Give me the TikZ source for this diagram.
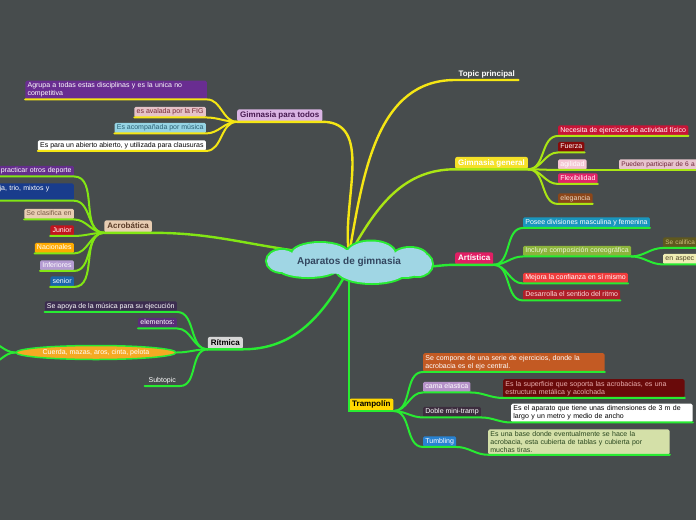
\documentclass[tikz,border=0pt]{standalone}
\usepackage{fontspec}
\setmainfont{Liberation Sans}
\usetikzlibrary{shapes.geometric}
\pgfdeclarelayer{top}
\pgfsetlayers{main,top}
\definecolor{bg}{RGB}{71,76,77}
\definecolor{cGpt}{RGB}{218,180,228}\definecolor{tGpt}{RGB}{70,25,80}
\definecolor{cPurp}{RGB}{105,45,145}
\definecolor{cAval}{RGB}{230,195,200}\definecolor{tAval}{RGB}{120,40,50}
\definecolor{cAcom}{RGB}{150,212,228}\definecolor{tAcom}{RGB}{40,95,115}
\definecolor{cGG}{RGB}{245,225,40}
\definecolor{cNec}{RGB}{200,20,55}
\definecolor{cFue}{RGB}{135,10,10}
\definecolor{cAgi}{RGB}{245,198,212}
\definecolor{cPP}{RGB}{232,196,206}\definecolor{tPP}{RGB}{110,35,55}
\definecolor{cFlx}{RGB}{226,35,105}
\definecolor{cEle}{RGB}{140,70,25}\definecolor{tEle}{RGB}{235,215,195}
\definecolor{cArt}{RGB}{225,30,100}
\definecolor{cPos}{RGB}{25,150,190}
\definecolor{cInc}{RGB}{140,180,60}\definecolor{tInc}{RGB}{235,245,215}
\definecolor{cSec}{RGB}{95,88,30}\definecolor{tSec}{RGB}{200,190,120}
\definecolor{cAsp}{RGB}{240,238,180}\definecolor{tAsp}{RGB}{80,70,40}
\definecolor{cMej}{RGB}{240,60,60}
\definecolor{cDes}{RGB}{175,30,40}\definecolor{tDes}{RGB}{250,220,220}
\definecolor{cTr}{RGB}{255,215,0}
\definecolor{cCom}{RGB}{195,90,35}
\definecolor{cCam}{RGB}{180,145,200}
\definecolor{cSup}{RGB}{105,10,10}\definecolor{tSup}{RGB}{235,175,175}
\definecolor{cDob}{RGB}{60,45,62}
\definecolor{cTum}{RGB}{40,130,210}
\definecolor{cBas}{RGB}{212,224,168}\definecolor{tBas}{RGB}{40,70,30}
\definecolor{cAcr}{RGB}{232,205,178}\definecolor{tAcr}{RGB}{90,60,40}
\definecolor{cPurpB}{RGB}{100,45,140}
\definecolor{cTri}{RGB}{25,60,140}
\definecolor{tCla}{RGB}{120,90,70}
\definecolor{cJun}{RGB}{195,20,30}
\definecolor{cNac}{RGB}{255,170,0}
\definecolor{cInf}{RGB}{180,155,210}
\definecolor{cSen}{RGB}{25,100,170}
\definecolor{cRit}{RGB}{215,215,215}
\definecolor{cApo}{RGB}{60,45,80}
\definecolor{cElm}{RGB}{90,45,120}
\definecolor{cCue}{RGB}{245,170,35}
\definecolor{lY}{RGB}{245,230,20}
\definecolor{lGG}{RGB}{170,230,20}
\definecolor{lA}{RGB}{130,230,20}
\definecolor{lG}{RGB}{40,235,50}
\definecolor{cCloud}{RGB}{160,214,228}
\definecolor{tCloud}{RGB}{50,70,95}
\begin{document}
\begin{tikzpicture}[x=1pt,y=-1pt,
 bx/.style={rounded corners=1.5pt, inner xsep=2.2pt, inner ysep=1.8pt, text height=5.3pt, text depth=1.6pt, font=\fontsize{7}{8}\selectfont, text=white},
 bxm/.style={rounded corners=1.5pt, inner xsep=2.2pt, inner ysep=2pt, font=\fontsize{7}{8}\selectfont, text=white, align=left, text width=#1},
 mt/.style={rounded corners=2pt, inner xsep=3pt, inner ysep=2.2pt, text height=6pt, text depth=1.8pt, font=\bfseries\fontsize{8}{9}\selectfont},
 cn/.style={line width=2pt, line cap=round},
 mn/.style={line width=2.4pt, line cap=round},
]
\fill[bg] (0,0) rectangle (696,520);
\useasboundingbox (0,0) rectangle (696,520);

% central topic: cloud outline drawn as overlapping puffs
\begin{pgfonlayer}{top}
\def\puffs{282/261/15/11, 320/254/28/11, 371/254/24/12.5, 410/257/17/9, 418/264/14/12, 405/268/17/9, 372/270/35/13, 308/268/29/9}
\foreach \x/\y/\a/\b in \puffs {\draw[lG, line width=4pt] (\x,\y) ellipse (\a pt and \b pt);}
\foreach \x/\y/\a/\b in \puffs {\fill[cCloud] (\x,\y) ellipse (\a pt and \b pt);}
\fill[cCloud] (350,262) ellipse (64pt and 12pt);
\node[ellipse, minimum width=150pt, minimum height=30pt, inner sep=0pt, font=\bfseries\fontsize{10}{12}\selectfont, text=tCloud] (cl) at (349,262) {Aparatos de gimnasia};
\end{pgfonlayer}

% Gimnasia para todos
\node[mt, fill=cGpt, text=tGpt, anchor=west] (gpt) at (237,115.5) {Gimnasia para todos};
\node[bxm=177pt, fill=cPurp, anchor=east] (agr) at (207,90) {Agrupa a todas estas disciplinas y es la unica no\\competitiva};
\node[bx, fill=cAval, text=tAval, anchor=east] (avl) at (206,112) {es avalada por la FIG};
\node[bx, fill=cAcom, text=tAcom, anchor=east] (acm) at (206,128) {Es acompañada por música};
\node[bx, fill=white, text=black, anchor=east] (abi) at (206,145.5) {Es para un abierto abierto, y utilizada para clausuras};

% Topic principal
\node[font=\bfseries\fontsize{8}{9}\selectfont, text=white, minimum width=63pt, inner sep=2pt, anchor=south west] (tp) at (455,80) {Topic principal};

% Gimnasia general
\node[mt, fill=cGG, text=white, anchor=west] (gg) at (455,163) {Gimnasia general};
\node[bx, fill=cNec, anchor=west] (nec) at (558,130.5) {Necesita de ejercicios de actividad físico};
\node[bx, fill=cFue, anchor=west] (fue) at (558,147) {Fuerza};
\node[bx, fill=cAgi, anchor=west] (agi) at (558,164.5) {agilidad};
\node[bx, fill=cPP, text=tPP, anchor=west, font=\fontsize{6.6}{8}\selectfont, text width=80pt, align=left] (pp) at (619,164.5) {Pueden participar de 6 a};
\node[bx, fill=cFlx, anchor=west] (flx) at (558,178.5) {Flexibilidad};
\node[bx, fill=cEle, text=tEle, anchor=west] (ele) at (558,198.5) {elegancia};

% Artistica
\node[mt, fill=cArt, text=white, anchor=west] (art) at (455,258.5) {Artística};
\node[bx, fill=cPos, anchor=west] (pos) at (523,222.5) {Posee divisiones masculina y femenina};
\node[bx, fill=cInc, text=tInc, anchor=west] (inc) at (523,251) {Incluye composición coreográfica};
\node[bx, fill=cSec, text=tSec, anchor=west, font=\fontsize{6.4}{8}\selectfont, text width=36pt, align=left] (sec) at (663,242.5) {Se califica};
\node[bx, fill=cAsp, text=tAsp, anchor=west, text width=36pt, align=left] (asp) at (663,259) {en aspec};
\node[bx, fill=cMej, anchor=west] (mej) at (523,278) {Mejora la confianza en sí mismo};
\node[bx, fill=cDes, text=tDes, anchor=west] (des) at (523,295) {Desarrolla el sentido del ritmo};

% Trampolin
\node[mt, fill=cTr, text=black, anchor=south west] (trp) at (349,411) {Trampolín};
\node[bxm=177pt, fill=cCom, anchor=west] (com) at (423,362.5) {Se compone de una serie de ejercicios, donde la\\acrobacia es el eje central.};
\node[bx, fill=cCam, anchor=west] (cam) at (423,387) {cama elastica};
\node[bxm=177pt, fill=cSup, text=tSup, anchor=west] (sup) at (503,388.5) {Es la superficie que soporta las acrobacias, es una\\estructura metálica y acolchada};
\node[bx, fill=cDob, anchor=west] (dob) at (423,412) {Doble mini-tramp};
\node[bxm=177pt, fill=white, text=black, anchor=west] (apa) at (511,413) {Es el aparato que tiene unas dimensiones de 3 m de\\largo y un metro y medio de ancho};
\node[bx, fill=cTum, anchor=west] (tum) at (423,441.5) {Tumbling};
\node[bxm=177pt, fill=cBas, text=tBas, anchor=west] (bas) at (488,442) {Es una base donde eventualmente se hace la\\acrobacia, esta cubierta de tablas y cubierta por\\muchas tiras.};

% Acrobatica
\node[mt, fill=cAcr, text=tAcr, anchor=east] (acro) at (152,226.5) {Acrobática};
\node[bx, fill=cPurpB, anchor=east, text width=82pt, align=right] (pra) at (74,171) {practicar otros deporte};
\node[bxm=72pt, fill=cTri, anchor=east] (tri) at (74,192) {ja, trio, mixtos y\\\mbox{}};
\node[bx, fill=cAcr, text=tCla, anchor=east] (cla) at (74,214) {Se clasifica en};
\node[bx, fill=cJun, anchor=east] (jun) at (74,230.5) {Junior};
\node[bx, fill=cNac, anchor=east] (nac) at (74,248) {Nacionales};
\node[bx, fill=cInf, anchor=east] (inf) at (74,265.5) {Inferiores};
\node[bx, fill=cSen, anchor=east] (sen) at (74,281.5) {senior};

% Ritmica
\node[mt, fill=cRit, text=black, anchor=east] (rit) at (243,343) {Rítmica};
\node[bx, fill=cApo, anchor=east] (apo) at (177,306.5) {Se apoya de la música para su ejecución};
\node[bx, fill=cElm, anchor=east] (elm) at (177,323) {elementos:};
\node[ellipse, fill=cCue, draw=lG, line width=1.5pt, minimum width=160pt, minimum height=14pt, inner sep=0pt, text=white, font=\fontsize{7}{8}\selectfont] (cue) at (96,352.5) {Cuerda, mazas, aros, cinta, pelota};
\node[bx, minimum width=35pt, anchor=south east] (sub) at (180,386) {Subtopic};
\coordinate (cx1) at (-12,342);
\coordinate (cx2) at (-12,364);

% connectors: yellow branches
\draw[mn, lY] (cl.93) to[out=95,in=0] (gpt.south east) -- (gpt.south west);
\foreach \n in {agr,avl,acm,abi}{\draw[cn, lY] (gpt.south west) to[out=180,in=0] (\n.south east) -- (\n.south west);}
\draw[mn, lY] (cl.85) to[out=80,in=180] (tp.south west) -- (tp.south east);

% Gimnasia general
\draw[mn, lGG] (cl.72) to[out=60,in=180] (gg.south west) -- (gg.south east);
\foreach \n in {nec,fue,agi,flx,ele}{\draw[cn, lGG] (gg.south east) to[out=0,in=180] (\n.south west) -- (\n.south east);}
\draw[cn, lGG] (agi.south east) -- (pp.south west) -- (pp.south east);

% Artistica
\draw[mn, lG] (cl.-4) to[out=0,in=180] (art.south west) -- (art.south east);
\foreach \n in {pos,inc,mej,des}{\draw[cn, lG] (art.south east) to[out=0,in=180] (\n.south west) -- (\n.south east);}
\foreach \n in {sec,asp}{\draw[cn, lG] (inc.south east) to[out=0,in=180] (\n.south west) -- (\n.south east);}

% Trampolin
\draw[mn, lG] (cl.south) -- (trp.south west) -- (trp.south east);
\foreach \n in {com,cam,dob,tum}{\draw[cn, lG] (trp.south east) to[out=0,in=180] (\n.south west) -- (\n.south east);}
\draw[cn, lG] (cam.south east) to[out=0,in=180] (sup.south west) -- (sup.south east);
\draw[cn, lG] (dob.south east) to[out=0,in=180] (apa.south west) -- (apa.south east);
\draw[cn, lG] (tum.south east) to[out=0,in=180] (bas.south west) -- (bas.south east);

% Acrobatica
\draw[mn, lA] (cl.168) to[out=172,in=0] (acro.south east) -- (acro.south west);
\foreach \n in {pra,tri,cla,jun,nac,inf,sen}{\draw[cn, lA] (acro.south west) to[out=180,in=0] (\n.south east) -- (\n.south west);}

% Ritmica
\draw[mn, lG] (cl.-108) to[out=-120,in=0] (rit.south east) -- (rit.south west);
\foreach \n in {apo,elm,sub}{\draw[cn, lG] (rit.south west) to[out=180,in=0] (\n.south east) -- (\n.south west);}
\draw[cn, lG] (rit.south west) to[out=180,in=0] (cue.east);
\draw[cn, lG] (cue.west) to[out=180,in=0] (cx1);
\draw[cn, lG] (cue.west) to[out=180,in=0] (cx2);
\end{tikzpicture}
\end{document}
